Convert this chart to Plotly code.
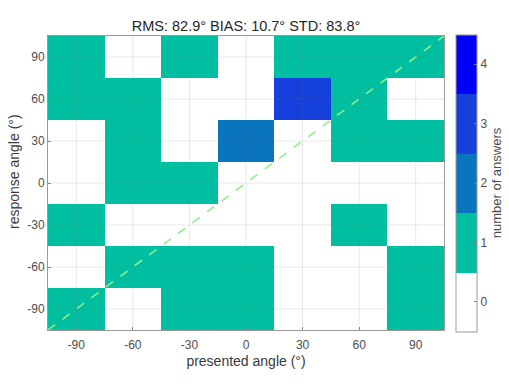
import plotly.graph_objects as go

presented = [-90, -60, -30, 0, 30, 60, 90]
response = [-90, -60, -30, 0, 30, 60, 90]
tick_labels = ["-90", "-60", "-30", "0", "30", "60", "90"]
# counts[row][col], rows follow `response` (bottom to top), cols follow `presented`
counts = [
    [1, 0, 1, 1, 0, 0, 1],   # -90
    [0, 1, 1, 1, 0, 0, 1],   # -60
    [1, 0, 0, 0, 0, 1, 0],   # -30
    [0, 1, 1, 0, 0, 0, 0],   # 0
    [0, 1, 0, 2, 0, 1, 1],   # 30
    [1, 1, 0, 0, 3, 1, 0],   # 60
    [1, 0, 1, 0, 1, 1, 1],   # 90
]
cbar_ticks = [0, 1, 2, 3, 4]
level_colors = ["#FFFFFF", "#00BFA0", "#0A74BE", "#1640DC", "#0000FF"]
title_text = "RMS: 82.9° BIAS: 10.7° STD: 83.8°"
x_title = "presented angle (°)"
y_title = "response angle (°)"
cbar_title = "number of answers"

n = len(level_colors)
colorscale = []
for i, c in enumerate(level_colors):
    colorscale.append([i / n, c])
    colorscale.append([(i + 1) / n, c])

FONT = "Liberation Sans, Arial, sans-serif"
GRAY = "#4D4D4D"
TGRAY = "#3A3A3A"

fig = go.Figure()
fig.add_trace(go.Heatmap(
    x=presented, y=response, z=counts,
    zmin=-0.5, zmax=4.5, colorscale=colorscale,
    xgap=0, ygap=0,
    colorbar=dict(
        x=1.03, xanchor="left", xpad=0, y=0.5, yanchor="middle", ypad=0,
        len=1.01, thickness=21, outlinewidth=1, outlinecolor="#9A9A9A",
        tickvals=cbar_ticks, ticks="inside", ticklen=3, tickcolor="#7A7A7A",
        tickfont=dict(family=FONT, size=12, color=GRAY),
        title=dict(text=cbar_title, side="right",
                   font=dict(family=FONT, size=13, color=GRAY)),
    ),
))

lim = 105
fig.add_trace(go.Scatter(
    x=[-lim, lim], y=[-lim, lim], mode="lines",
    line=dict(color="#8CF08C", width=1.6, dash="dash"),
    showlegend=False, hoverinfo="skip",
))

# faint grid drawn above the cells (as in the original)
shapes = []
for v in presented:
    shapes.append(dict(type="line", xref="x", yref="y domain", x0=v, x1=v, y0=0, y1=1,
                       line=dict(color="rgba(120,120,120,0.16)", width=1), layer="above"))
for v in response:
    shapes.append(dict(type="line", xref="x domain", yref="y", x0=0, x1=1, y0=v, y1=v,
                       line=dict(color="rgba(120,120,120,0.16)", width=1), layer="above"))

fig.update_layout(
    width=509, height=389,
    margin=dict(l=48, r=65, t=36, b=59, autoexpand=False),
    paper_bgcolor="white", plot_bgcolor="white",
    shapes=shapes,
    showlegend=False,
    title=dict(text=title_text, x=0.5 * (48 + 444) / 509, xanchor="center",
               y=1 - 25.5 / 389, yanchor="middle",
               font=dict(family=FONT, size=14.5, color="#262626")),
    font=dict(family=FONT, size=12, color=GRAY),
    annotations=[
        dict(text=y_title, textangle=-90, xref="paper", yref="paper",
             x=-(48 - 4) / 396, xanchor="left", y=(330 - 172) / 294, yanchor="middle",
             showarrow=False, font=dict(family=FONT, size=14, color=TGRAY)),
    ],
)
fig.update_xaxes(
    range=[-lim, lim], tickvals=presented, ticktext=tick_labels, ticks="inside", ticklen=3,
    tickcolor="#8A8A8A", showline=True, linecolor="#9A9A9A", linewidth=1, mirror=True,
    showgrid=False, zeroline=False, automargin=False, ticklabelstandoff=4,
    tickfont=dict(family=FONT, size=12, color=GRAY),
    title=dict(text=x_title, font=dict(family=FONT, size=14, color=TGRAY), standoff=4),
)
fig.update_yaxes(
    range=[-lim, lim], tickvals=response, ticktext=tick_labels, ticks="inside", ticklen=3,
    tickcolor="#8A8A8A", showline=True, linecolor="#9A9A9A", linewidth=1, mirror=True,
    showgrid=False, zeroline=False, automargin=False,
    tickfont=dict(family=FONT, size=12, color=GRAY),
)

fig.write_html("out.html", config={"displayModeBar": False},
               post_script="document.body.style.margin='0';")
